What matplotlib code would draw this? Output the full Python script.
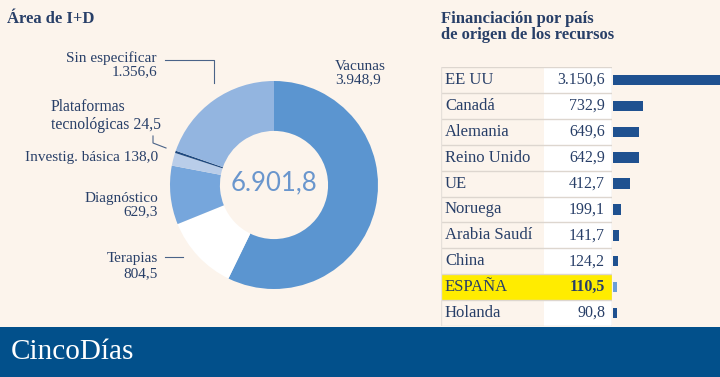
import matplotlib.pyplot as plt
from matplotlib.patches import Rectangle

# Área de I+D (donut), clockwise from the top
areas = ["Vacunas", "Terapias", "Diagnóstico", "Investig. básica",
         "Plataformas tecnológicas", "Sin especificar"]
area_values = [3948.9, 804.5, 629.3, 138.0, 24.5, 1356.6]
area_colors = ["#5b95d0", "#ffffff", "#76a6dc", "#b9cde9", "#1f4a80", "#93b5e0"]
total_label = "6.901,8"

# Financiación por país
countries = ["EE UU", "Canadá", "Alemania", "Reino Unido", "UE", "Noruega",
             "Arabia Saudí", "China", "ESPAÑA", "Holanda"]
funding = [3150.6, 732.9, 649.6, 642.9, 412.7, 199.1, 141.7, 124.2, 110.5, 90.8]
funding_labels = ["3.150,6", "732,9", "649,6", "642,9", "412,7", "199,1",
                  "141,7", "124,2", "110,5", "90,8"]
highlight = "ESPAÑA"

BG = "#fcf4ec"
NAVY = "#283f68"
W, H = 720, 377

plt.rcParams['font.family'] = ['Liberation Serif', 'DejaVu Serif']

fig = plt.figure(figsize=(7.2, 3.77), dpi=100, facecolor=BG)


def px_axes(x0, y0, w, h):
    # axes placed with pixel coords measured from the top-left corner
    return fig.add_axes([x0 / W, (H - y0 - h) / H, w / W, h / H])


# overlay in pixel coords for titles, labels, leader lines and banner
ov = px_axes(0, 0, W, H)
ov.set_xlim(0, W)
ov.set_ylim(H, 0)
ov.axis("off")

ov.text(7, 19, "Área de I+D", fontsize=12, fontweight="bold", color=NAVY,
        va="center", ha="left")
ov.text(441, 27, "Financiación por país\nde origen de los recursos", fontsize=12,
        fontweight="bold", color=NAVY, va="center", ha="left", linespacing=1.0)

lab = dict(fontsize=11, color=NAVY, va="center")
ov.text(335, 73, "Vacunas\n3.948,9", ha="left", linespacing=1.05, **lab)
ov.text(157, 65, "Sin especificar\n1.356,6", ha="right", multialignment="right",
        linespacing=1.05, **lab)
ov.text(161, 116, "Plataformas\ntecnológicas 24,5", ha="right",
        multialignment="left", linespacing=1.1, fontsize=11.3, color=NAVY,
        va="center")
ov.text(158, 158, "Investig. básica 138,0", ha="right", **lab)
ov.text(158, 205, "Diagnóstico\n629,3", ha="right", multialignment="right",
        linespacing=1.05, **lab)
ov.text(158, 266, "Terapias\n804,5", ha="right", multialignment="right",
        linespacing=1.15, **lab)

lk = dict(color="#4a6388", lw=0.8)
ov.plot([165, 214, 214], [60, 60, 83], **lk)
ov.plot([153, 153, 166], [136, 143, 148], **lk)
ov.plot([165, 183], [257, 257], **lk)

ov.add_patch(Rectangle((0, 327), W, 50, color="#02508b", lw=0))
ov.text(11, 352, "CincoDías", fontsize=21, color="white", va="center",
        ha="left")

# donut
ax = px_axes(170, 81, 208, 208)
ax.pie(area_values, colors=area_colors, startangle=90, counterclock=False,
       radius=1.0, wedgeprops=dict(width=0.48, linewidth=0))
ax.set_xlim(-1, 1)
ax.set_ylim(-1, 1)
ax.set_aspect("equal")
ax.text(0, 0.02, total_label, ha="center", va="center", fontsize=18.5,
        color="#6a96cd", family=["Lato", "DejaVu Sans"])

# table
n = len(countries)
tb = px_axes(441, 67, 171, 259)
tb.set_xlim(0, 171)
tb.set_ylim(n - 0.5, -0.5)
tb.axis("off")
tb.axvspan(103, 171, color="white", lw=0, zorder=0)
hi = countries.index(highlight)
tb.axhspan(hi - 0.5, hi + 0.5, color="#ffec00", lw=0, zorder=1)
for i in range(n + 1):
    tb.axhline(i - 0.5, color="#ddd6cf", lw=1, zorder=2)
tb.axvline(0, color="#e6e0da", lw=1, zorder=2)
tb.axvline(171, color="#ddd6cf", lw=1, zorder=2)
for i, (c, v) in enumerate(zip(countries, funding_labels)):
    tb.text(4, i, c, ha="left", va="center", fontsize=12, color=NAVY, zorder=3)
    tb.text(164, i, v, ha="right", va="center", fontsize=11.5, color=NAVY,
            fontweight="bold" if c == highlight else "normal", zorder=3)

# bars
bx = px_axes(613, 67, 107, 259)
bar_colors = ["#6b9fd8" if c == highlight else "#1f5190" for c in countries]
bx.barh(range(n), funding, height=0.4, color=bar_colors)
bx.set_xlim(0, 2640)
bx.set_ylim(n - 0.5, -0.5)
bx.axis("off")

fig.savefig("out.png", dpi=100, facecolor=BG)
plt.close()
